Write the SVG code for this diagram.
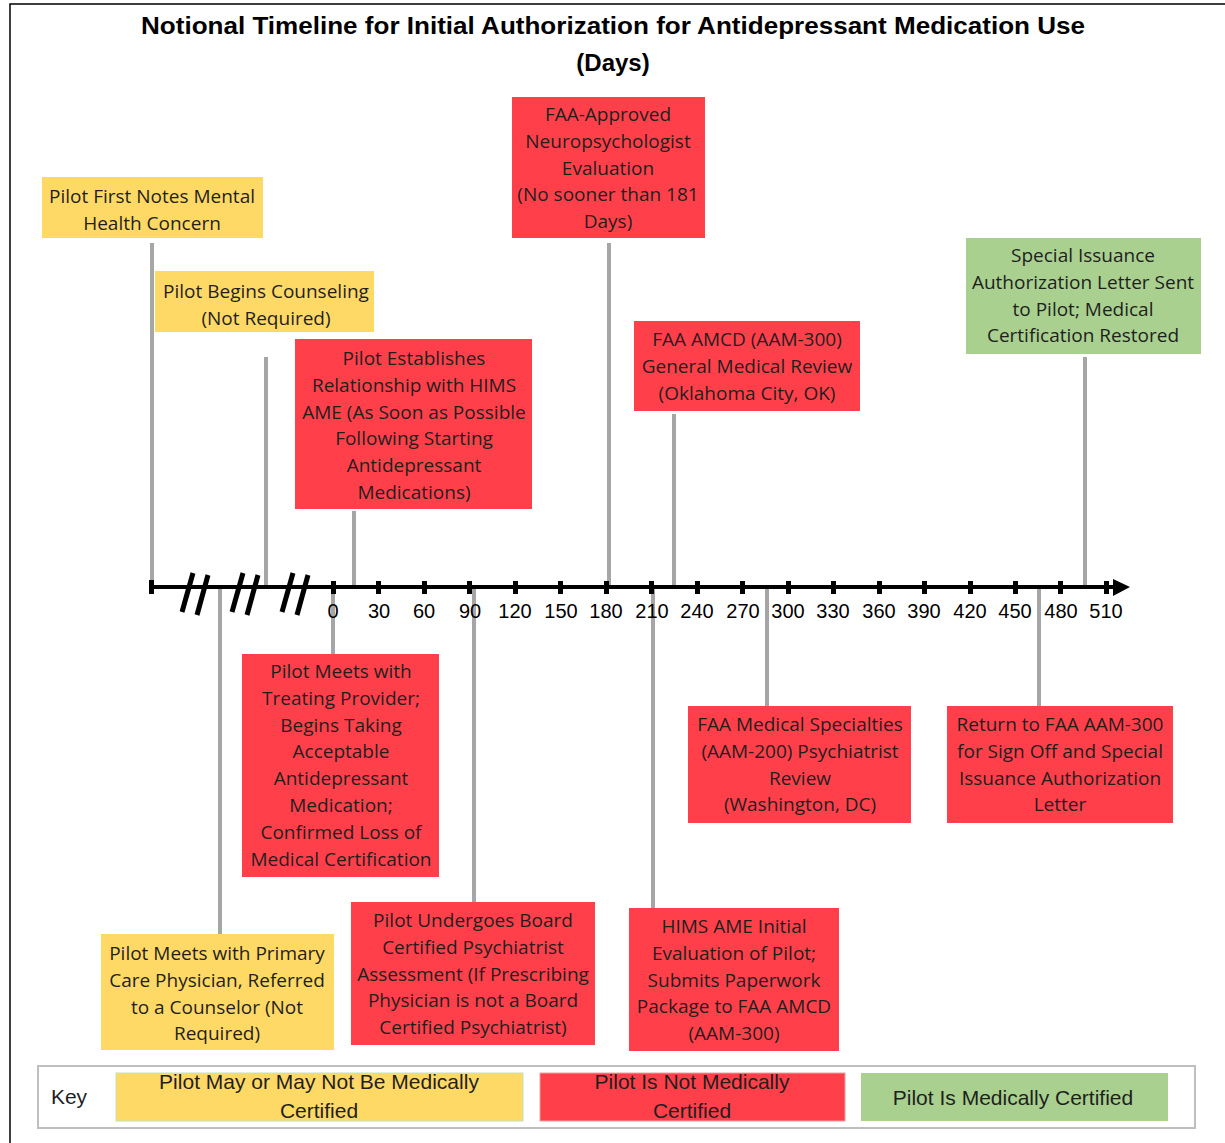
<svg xmlns="http://www.w3.org/2000/svg" width="1225" height="1143" viewBox="0 0 1225 1143">
<style>
.bx text{font-family:"Open Sans","Liberation Sans",sans-serif;font-size:19px;fill:#1f1f1f;text-anchor:middle}
.y{fill:#FFD966}
.r{fill:#FF404A}
.g{fill:#A9D08E}
.con line{stroke:#A6A6A6;stroke-width:4}
.ax text{font-family:"Liberation Sans",sans-serif;font-size:20px;fill:#000;text-anchor:middle}
.key text{font-family:"Liberation Sans",sans-serif;font-size:21px;fill:#1f1f1f;text-anchor:middle}
</style>
<rect x="0" y="0" width="1225" height="1143" fill="#fff"/>
<path d="M10,1143 V4 H1225" fill="none" stroke="#000" stroke-width="1.5"/>
<g id="title" font-family="Liberation Sans, sans-serif" font-weight="bold" fill="#000" text-anchor="middle">
<text x="613" y="34" font-size="24" textLength="944" lengthAdjust="spacingAndGlyphs">Notional Timeline for Initial Authorization for Antidepressant Medication Use</text>
<text x="613" y="71" font-size="24">(Days)</text>
</g>
<g id="connectors" class="con">
<line x1="152" y1="243" x2="152" y2="587"/>
<line x1="266" y1="357" x2="266" y2="587"/>
<line x1="354" y1="511" x2="354" y2="587"/>
<line x1="609" y1="243" x2="609" y2="587"/>
<line x1="674" y1="414" x2="674" y2="587"/>
<line x1="1085" y1="357" x2="1085" y2="587"/>
<line x1="220" y1="587" x2="220" y2="934"/>
<line x1="333" y1="587" x2="333" y2="654"/>
<line x1="474" y1="587" x2="474" y2="902"/>
<line x1="653" y1="587" x2="653" y2="908"/>
<line x1="767" y1="587" x2="767" y2="706"/>
<line x1="1039" y1="587" x2="1039" y2="706"/>
</g>
<g id="axis" class="ax">
<line x1="151" y1="587" x2="1116" y2="587" stroke="#000" stroke-width="4"/>
<rect x="149" y="580" width="5" height="14" fill="#000"/>
<polygon points="1113,579 1130,587 1113,596" fill="#000"/>
<g stroke="#000" stroke-width="5" stroke-linecap="butt">
<line x1="193" y1="573" x2="182" y2="612"/>
<line x1="208" y1="575" x2="197" y2="615"/>
<line x1="243" y1="573" x2="232" y2="612"/>
<line x1="258" y1="575" x2="247" y2="615"/>
<line x1="293" y1="573" x2="282" y2="612"/>
<line x1="308" y1="575" x2="297" y2="615"/>
</g>
<g fill="#000">
<rect x="331" y="581" width="5" height="13"/>
<rect x="376" y="581" width="5" height="13"/>
<rect x="422" y="581" width="5" height="13"/>
<rect x="467" y="581" width="5" height="13"/>
<rect x="513" y="581" width="5" height="13"/>
<rect x="558" y="581" width="5" height="13"/>
<rect x="604" y="581" width="5" height="13"/>
<rect x="649" y="581" width="5" height="13"/>
<rect x="695" y="581" width="5" height="13"/>
<rect x="740" y="581" width="5" height="13"/>
<rect x="786" y="581" width="5" height="13"/>
<rect x="831" y="581" width="5" height="13"/>
<rect x="877" y="581" width="5" height="13"/>
<rect x="922" y="581" width="5" height="13"/>
<rect x="968" y="581" width="5" height="13"/>
<rect x="1013" y="581" width="5" height="13"/>
<rect x="1058" y="581" width="5" height="13"/>
<rect x="1104" y="581" width="5" height="13"/>
</g>
<text x="333" y="618">0</text>
<text x="379" y="618">30</text>
<text x="424" y="618">60</text>
<text x="470" y="618">90</text>
<text x="515" y="618">120</text>
<text x="561" y="618">150</text>
<text x="606" y="618">180</text>
<text x="652" y="618">210</text>
<text x="697" y="618">240</text>
<text x="743" y="618">270</text>
<text x="788" y="618">300</text>
<text x="833" y="618">330</text>
<text x="879" y="618">360</text>
<text x="924" y="618">390</text>
<text x="970" y="618">420</text>
<text x="1015" y="618">450</text>
<text x="1061" y="618">480</text>
<text x="1106" y="618">510</text>
</g>
<g id="n1" class="bx"><rect class="y" x="42" y="177" width="221" height="61"/>
<text x="152"><tspan x="152" y="203">Pilot First Notes Mental</tspan><tspan x="152" y="230">Health Concern</tspan></text></g>
<g id="n2" class="bx"><rect class="y" x="155" y="271" width="219" height="61"/>
<text><tspan x="266" y="298">Pilot Begins Counseling</tspan><tspan x="266" y="325">(Not Required)</tspan></text></g>
<g id="n3" class="bx"><rect class="r" x="295" y="339" width="237" height="170"/>
<text><tspan x="414" y="365">Pilot Establishes</tspan><tspan x="414" y="392">Relationship with HIMS</tspan><tspan x="414" y="419">AME (As Soon as Possible</tspan><tspan x="414" y="445">Following Starting</tspan><tspan x="414" y="472">Antidepressant</tspan><tspan x="414" y="499">Medications)</tspan></text></g>
<g id="n4" class="bx"><rect class="r" x="512" y="97" width="193" height="141"/>
<text><tspan x="608" y="121">FAA-Approved</tspan><tspan x="608" y="148">Neuropsychologist</tspan><tspan x="608" y="175">Evaluation</tspan><tspan x="608" y="201">(No sooner than 181</tspan><tspan x="608" y="228">Days)</tspan></text></g>
<g id="n5" class="bx"><rect class="r" x="634" y="321" width="226" height="90"/>
<text><tspan x="747" y="346">FAA AMCD (AAM-300)</tspan><tspan x="747" y="373">General Medical Review</tspan><tspan x="747" y="400">(Oklahoma City, OK)</tspan></text></g>
<g id="n6" class="bx"><rect class="g" x="966" y="238" width="235" height="116"/>
<text><tspan x="1083" y="262">Special Issuance</tspan><tspan x="1083" y="289">Authorization Letter Sent</tspan><tspan x="1083" y="316">to Pilot; Medical</tspan><tspan x="1083" y="342">Certification Restored</tspan></text></g>
<g id="n7" class="bx"><rect class="y" x="101" y="934" width="233" height="116"/>
<text><tspan x="217" y="960">Pilot Meets with Primary</tspan><tspan x="217" y="987">Care Physician, Referred</tspan><tspan x="217" y="1014">to a Counselor (Not</tspan><tspan x="217" y="1040">Required)</tspan></text></g>
<g id="n8" class="bx"><rect class="r" x="242" y="654" width="197" height="223"/>
<text><tspan x="341" y="678">Pilot Meets with</tspan><tspan x="341" y="705">Treating Provider;</tspan><tspan x="341" y="732">Begins Taking</tspan><tspan x="341" y="758">Acceptable</tspan><tspan x="341" y="785">Antidepressant</tspan><tspan x="341" y="812">Medication;</tspan><tspan x="341" y="839">Confirmed Loss of</tspan><tspan x="341" y="866">Medical Certification</tspan></text></g>
<g id="n9" class="bx"><rect class="r" x="351" y="902" width="244" height="143"/>
<text><tspan x="473" y="927">Pilot Undergoes Board</tspan><tspan x="473" y="954">Certified Psychiatrist</tspan><tspan x="473" y="981">Assessment (If Prescribing</tspan><tspan x="473" y="1007">Physician is not a Board</tspan><tspan x="473" y="1034">Certified Psychiatrist)</tspan></text></g>
<g id="n10" class="bx"><rect class="r" x="629" y="908" width="210" height="143"/>
<text><tspan x="734" y="933">HIMS AME Initial</tspan><tspan x="734" y="960">Evaluation of Pilot;</tspan><tspan x="734" y="987">Submits Paperwork</tspan><tspan x="734" y="1013">Package to FAA AMCD</tspan><tspan x="734" y="1040">(AAM-300)</tspan></text></g>
<g id="n11" class="bx"><rect class="r" x="688" y="706" width="223" height="117"/>
<text><tspan x="800" y="731">FAA Medical Specialties</tspan><tspan x="800" y="758">(AAM-200) Psychiatrist</tspan><tspan x="800" y="785">Review</tspan><tspan x="800" y="811">(Washington, DC)</tspan></text></g>
<g id="n12" class="bx"><rect class="r" x="947" y="706" width="226" height="117"/>
<text><tspan x="1060" y="731">Return to FAA AAM-300</tspan><tspan x="1060" y="758">for Sign Off and Special</tspan><tspan x="1060" y="785">Issuance Authorization</tspan><tspan x="1060" y="811">Letter</tspan></text></g>
<g id="key" class="key">
<rect x="38" y="1066" width="1157" height="62" fill="#fff" stroke="#BFBFBF" stroke-width="2"/>
<text x="69" y="1104" font-size="19">Key</text>
<rect class="y" x="116" y="1073" width="407" height="48" stroke="#C5E0B4" stroke-width="1"/>
<rect class="r" x="540" y="1073" width="305" height="48" stroke="#E8A0A0" stroke-width="1"/>
<rect class="g" x="861" y="1073" width="307" height="48"/>
<text x="319" y="1089">Pilot May or May Not Be Medically</text>
<text x="319" y="1118">Certified</text>
<text x="692" y="1089">Pilot Is Not Medically</text>
<text x="692" y="1118">Certified</text>
<text x="1013" y="1105">Pilot Is Medically Certified</text>
</g>
</svg>
